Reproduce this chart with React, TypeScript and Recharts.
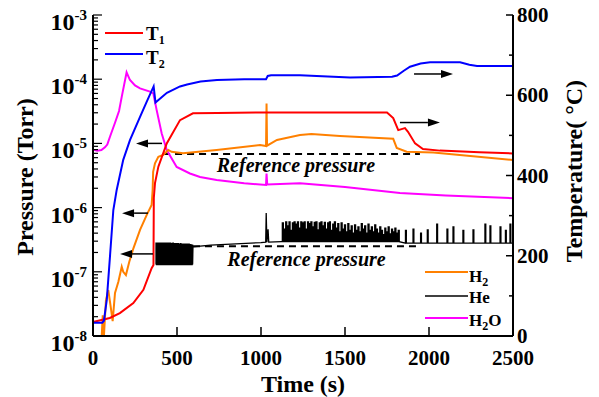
import React from 'react'
import { ComposedChart, Line, XAxis, YAxis, ReferenceLine, ReferenceDot, Customized } from 'recharts'

const FONT = '"Liberation Serif", "Times New Roman", serif'

// [time (s), temperature (°C)]
const t1Data = [
  [0, 35], [100, 45], [160, 57], [240, 82], [300, 115], [349, 169], [360, 177], [362, 344],
  [369, 381], [389, 422], [439, 480], [518, 538], [595, 555], [738, 556], [1030, 557],
  [1750, 557], [1787, 543], [1817, 513], [1857, 518], [1875, 509], [1917, 480], [1964, 466],
  [2065, 462], [2300, 458], [2500, 455],
]
const t2Data = [
  [0, 33], [55, 33], [65, 38], [82, 90], [101, 198], [121, 314], [141, 364], [180, 439],
  [220, 488], [280, 546], [320, 584], [361, 622], [372, 582], [400, 592], [440, 606],
  [518, 622], [560, 627], [640, 634], [738, 638], [900, 640], [1030, 640], [1040, 648],
  [1060, 650], [1232, 650], [1530, 644], [1780, 646], [1810, 649], [1850, 661], [1887, 671],
  [1950, 679], [2006, 682], [2185, 682], [2240, 676], [2286, 673], [2500, 673],
]

// [time (s), pressure (Torr)]
const h2Data = [
  [52, 1.0e-8], [58, 2.1e-8], [65, 1.0e-8], [77, 3.6e-8], [91, 5.2e-8], [105, 2.9e-8],
  [117, 1.7e-8], [131, 4.7e-8], [151, 7.0e-8], [171, 1.2e-7], [180, 1.0e-7], [196, 8.9e-8],
  [216, 1.43e-7], [240, 2.3e-7], [280, 4.5e-7], [320, 7.7e-7], [349, 1.1e-6], [355, 1.9e-6],
  [358, 3.6e-6], [369, 4.9e-6], [389, 6.2e-6], [418, 6.6e-6], [448, 7.9e-6], [468, 7.4e-6],
  [536, 7.0e-6], [736, 7.9e-6], [994, 9.4e-6], [1030, 9.1e-6], [1033, 4.2e-5], [1036, 9.2e-6],
  [1095, 1.13e-5], [1232, 1.35e-5], [1300, 1.4e-5], [1470, 1.3e-5], [1787, 1.18e-5],
  [1808, 8.5e-6], [1867, 7.4e-6], [2026, 7.2e-6], [2500, 5.5e-6],
]
const h2oData = [
  [0, 8.0e-6], [25, 7.7e-6], [50, 7.9e-6], [71, 8.7e-6], [85, 9.6e-6], [101, 1.27e-5],
  [131, 2.1e-5], [155, 3.2e-5], [171, 5.3e-5], [200, 1.28e-4], [220, 9.7e-5], [250, 8.0e-5],
  [280, 7.2e-5], [339, 6.4e-5], [359, 6.0e-5], [379, 3.3e-5], [409, 1.43e-5], [439, 7.9e-6],
  [498, 4.3e-6], [577, 3.4e-6], [637, 3.0e-6], [736, 2.7e-6], [900, 2.4e-6], [1030, 2.25e-6],
  [1033, 3.4e-6], [1037, 2.3e-6], [1232, 2.4e-6], [1500, 2.1e-6], [1827, 1.69e-6],
  [2100, 1.55e-6], [2500, 1.4e-6],
]

// He signal: bursts of pulses [time, top] over a base level, plus a smooth plateau
const heBurstBase = 1.3e-7
const heBurst = [
  [375, 2.8e-7], [380, 2.8e-7], [385, 2.75e-7], [390, 2.8e-7], [395, 2.8e-7], [400, 2.75e-7],
  [405, 2.8e-7], [410, 2.8e-7], [415, 2.8e-7], [420, 2.75e-7], [425, 2.8e-7], [430, 2.8e-7],
  [435, 2.75e-7], [440, 2.8e-7], [445, 2.8e-7], [450, 2.75e-7], [455, 2.8e-7], [460, 2.8e-7],
  [465, 2.75e-7], [470, 2.75e-7], [475, 2.8e-7], [480, 2.75e-7], [485, 2.75e-7], [490, 2.75e-7],
  [495, 2.7e-7], [500, 2.75e-7], [505, 2.75e-7], [510, 2.7e-7], [515, 2.7e-7], [520, 2.75e-7],
  [525, 2.7e-7], [535, 2.7e-7], [540, 2.7e-7], [545, 2.7e-7], [555, 2.7e-7], [565, 2.7e-7],
  [570, 2.7e-7], [580, 2.65e-7], [590, 2.6e-7],
]
const hePlateau = [
  [595, 2.45e-7], [700, 2.6e-7], [850, 2.72e-7], [1000, 2.85e-7], [1028, 2.9e-7],
  [1031, 8.2e-7], [1035, 2.9e-7], [1042, 4.6e-7], [1046, 2.9e-7], [1122, 2.95e-7],
]
const heDenseBase = 2.95e-7
const heDense = [
  [1127, 5.8e-7], [1137, 4.6e-7], [1147, 6.0e-7], [1157, 5.2e-7], [1167, 6.0e-7], [1177, 4.4e-7],
  [1187, 5.8e-7], [1197, 6.0e-7], [1207, 5.5e-7], [1217, 6.0e-7], [1227, 4.8e-7], [1237, 6.0e-7],
  [1247, 5.8e-7], [1257, 6.0e-7], [1267, 4.6e-7], [1277, 6.0e-7], [1287, 5.6e-7], [1297, 6.0e-7],
  [1307, 5.0e-7], [1317, 5.9e-7], [1327, 6.0e-7], [1337, 4.5e-7], [1347, 5.8e-7], [1357, 6.0e-7],
  [1367, 5.2e-7], [1377, 5.9e-7], [1387, 4.6e-7], [1397, 5.8e-7], [1407, 6.0e-7], [1417, 4.4e-7],
  [1427, 5.5e-7], [1437, 6.0e-7], [1447, 4.8e-7], [1457, 5.6e-7], [1467, 4.2e-7], [1477, 5.8e-7],
  [1487, 4.6e-7], [1497, 5.4e-7], [1507, 4.2e-7], [1517, 5.6e-7], [1527, 4.4e-7], [1537, 5.2e-7],
  [1547, 4.0e-7], [1557, 5.4e-7], [1567, 4.4e-7], [1577, 5.0e-7], [1587, 4.2e-7], [1597, 5.6e-7],
  [1607, 4.6e-7], [1617, 5.2e-7], [1627, 4.0e-7], [1637, 5.5e-7], [1647, 4.4e-7], [1657, 5.0e-7],
  [1667, 4.2e-7], [1677, 5.4e-7], [1687, 4.6e-7], [1697, 4.0e-7], [1707, 5.0e-7], [1717, 4.4e-7],
  [1727, 3.8e-7], [1737, 4.8e-7], [1747, 4.2e-7], [1757, 5.0e-7], [1767, 3.9e-7], [1777, 4.6e-7],
  [1787, 4.2e-7], [1797, 4.8e-7], [1807, 4.0e-7], [1817, 4.4e-7],
]
const heSparseBase = 2.8e-7
const heSparse = [
  [1860, 4.4e-7], [1905, 4.6e-7], [1950, 4.0e-7], [1990, 4.5e-7], [2046, 5.5e-7], [2107, 4.6e-7],
  [2143, 5.0e-7], [2202, 4.4e-7], [2262, 4.5e-7], [2333, 5.5e-7], [2363, 5.2e-7], [2423, 5.0e-7],
  [2455, 4.4e-7], [2482, 5.5e-7],
]
const heEnd = [[2500, 2.8e-7]]

// reference pressures: [start time, end time, pressure]
const refUpper = [417, 1946, 6.84e-6]
const refLower = [595, 1950, 2.5e-7]

// arrows: [from time, to time, value]
const pressureArrows = [[411, 256, 1.0e-5], [327, 173, 8.2e-7], [357, 161, 1.9e-7]]
const tempArrows = [[1911, 2143, 653], [1827, 2065, 532]]

const timeTicks = [0, 500, 1000, 1500, 2000, 2500]
const topTicks = [500, 1000, 1500, 2000]
const decades = [1e-8, 1e-7, 1e-6, 1e-5, 1e-4, 1e-3]
const pressureTicks = decades.flatMap((d, i) =>
  i === decades.length - 1 ? [d] : [1, 2, 3, 4, 5, 6, 7, 8, 9].map((m) => m * d)
)
const tempTicks = [0, 100, 200, 300, 400, 500, 600, 700, 800]

const rows = (arr: number[][]) => arr.map(([t, v]) => ({ t, v }))

// square pulses: up at t, down after w seconds
const pulses = (list: number[][], base: number, w: number) =>
  list.flatMap(([t, h]) => [[t, base], [t, h], [t + w, h], [t + w, base]])

const heData = [
  ...pulses(heBurst, heBurstBase, 3),
  ...hePlateau,
  ...pulses(heDense, heDenseBase, 6),
  ...pulses(heSparse, heSparseBase, 5),
  ...heEnd,
]

function BottomTick({ x, y, payload }: any) {
  return (
    <g>
      <line x1={x} y1={y} x2={x} y2={y - 9} stroke="#000" strokeWidth={1.5} />
      <text x={x} y={y + 29} textAnchor="middle" fontFamily={FONT} fontWeight="bold" fontSize={21} fill="#000">
        {payload.value}
      </text>
    </g>
  )
}

function TopTick({ x, y }: any) {
  return <line x1={x} y1={y} x2={x} y2={y + 9} stroke="#000" strokeWidth={1.5} />
}

function PressureTick({ x, y, payload }: any) {
  const e = Math.log10(payload.value)
  const major = Math.abs(e - Math.round(e)) < 1e-6
  return (
    <g>
      <line x1={x} y1={y} x2={x + (major ? 9 : 5)} y2={y} stroke="#000" strokeWidth={1.2} />
      {major && (
        <text x={x - 6} y={y + 15} textAnchor="end" fontFamily={FONT} fontWeight="bold" fill="#000">
          <tspan fontSize={24}>10</tspan>
          <tspan fontSize={15} dy={-10}>{Math.round(e)}</tspan>
        </text>
      )}
    </g>
  )
}

function TempTick({ x, y, payload }: any) {
  const major = payload.value % 200 === 0
  return (
    <g>
      <line x1={x} y1={y} x2={x - (major ? 7 : 4)} y2={y} stroke="#000" strokeWidth={1.5} />
      {major && (
        <text x={x + 4} y={y + 7} fontFamily={FONT} fontWeight="bold" fontSize={21} fill="#000">
          {payload.value}
        </text>
      )}
    </g>
  )
}

function Arrow({ x1, y1, x2, y2 }: any) {
  const a = Math.atan2(y2 - y1, x2 - x1)
  const bx = x2 - 12 * Math.cos(a)
  const by = y2 - 12 * Math.sin(a)
  const px = -Math.sin(a) * 4
  const py = Math.cos(a) * 4
  return (
    <g>
      <line x1={x1} y1={y1} x2={bx} y2={by} stroke="#000" strokeWidth={1.5} />
      <polygon points={`${x2},${y2} ${bx + px},${by + py} ${bx - px},${by - py}`} fill="#000" />
    </g>
  )
}

const refLabel = (dy: number) => ({ cx, cy }: any) => (
  <text x={cx} y={cy + dy} textAnchor="middle" fontFamily={FONT} fontWeight="bold" fontStyle="italic" fontSize={20} fill="#000">
    Reference pressure
  </text>
)

function Decorations() {
  const txt = { fontFamily: FONT, fontWeight: 'bold' as const, fill: '#000' }
  return (
    <g>
      <line x1={105} y1={33} x2={143} y2={33} stroke="#ff0000" strokeWidth={2} />
      <text x={146} y={40} {...txt} fontSize={19}>T<tspan fontSize={12} dy={4}>1</tspan></text>
      <line x1={105} y1={54} x2={143} y2={54} stroke="#0000ff" strokeWidth={2} />
      <text x={146} y={64} {...txt} fontSize={19}>T<tspan fontSize={12} dy={4}>2</tspan></text>

      <line x1={425} y1={272} x2={468} y2={272} stroke="#ff8000" strokeWidth={2} />
      <text x={469} y={282} {...txt} fontSize={17}>H<tspan fontSize={12} dy={4}>2</tspan></text>
      <line x1={425} y1={296} x2={468} y2={296} stroke="#000" strokeWidth={1.5} />
      <text x={469} y={303} {...txt} fontSize={17}>He</text>
      <line x1={425} y1={318} x2={468} y2={318} stroke="#ff00ff" strokeWidth={2} />
      <text x={469} y={326} {...txt} fontSize={17}>H<tspan fontSize={12} dy={4}>2</tspan><tspan dy={-4}>O</tspan></text>

      <text x={33} y={177} transform="rotate(-90 33 177)" textAnchor="middle" {...txt} fontSize={24}>Pressure (Torr)</text>
      <text x={582} y={171} transform="rotate(-90 582 171)" textAnchor="middle" {...txt} fontSize={24}>Temperature( °C)</text>
      <text x={303} y={392} textAnchor="middle" {...txt} fontSize={24}>Time (s)</text>
    </g>
  )
}

export default function App() {
  return (
    <div style={{ position: 'absolute', left: 0, top: 0, background: '#fff' }}>
      <ComposedChart width={599} height={397} margin={{ top: 15, right: 0, bottom: 0, left: 0 }}>
        <XAxis
          dataKey="t"
          type="number"
          domain={[0, 2500]}
          ticks={timeTicks}
          height={61}
          tickSize={0}
          tickMargin={0}
          tickLine={false}
          tick={<BottomTick />}
          axisLine={{ stroke: '#000', strokeWidth: 2 }}
          interval={0}
        />
        <XAxis
          xAxisId="top"
          orientation="top"
          type="number"
          domain={[0, 2500]}
          ticks={topTicks}
          height={0}
          tickSize={0}
          tickMargin={0}
          tickLine={false}
          tick={<TopTick />}
          axisLine={{ stroke: '#000', strokeWidth: 2 }}
          interval={0}
        />
        <YAxis
          yAxisId="P"
          scale="log"
          type="number"
          domain={[1e-8, 1e-3]}
          allowDataOverflow
          ticks={pressureTicks}
          width={93}
          tickSize={0}
          tickMargin={0}
          tickLine={false}
          tick={<PressureTick />}
          axisLine={{ stroke: '#000', strokeWidth: 2 }}
          interval={0}
        />
        <YAxis
          yAxisId="T"
          orientation="right"
          type="number"
          domain={[0, 800]}
          ticks={tempTicks}
          width={86}
          tickSize={0}
          tickMargin={0}
          tickLine={false}
          tick={<TempTick />}
          axisLine={{ stroke: '#000', strokeWidth: 2 }}
          interval={0}
        />

        <ReferenceLine
          yAxisId="P"
          segment={[{ x: refUpper[0], y: refUpper[2] }, { x: refUpper[1], y: refUpper[2] }]}
          stroke="#000"
          strokeWidth={2}
          strokeDasharray="7 5"
        />
        <ReferenceLine
          yAxisId="P"
          segment={[{ x: refLower[0], y: refLower[2] }, { x: refLower[1], y: refLower[2] }]}
          stroke="#000"
          strokeWidth={2}
          strokeDasharray="7 5"
        />

        <Line data={rows(heData)} dataKey="v" yAxisId="P" stroke="#000" strokeWidth={1.3} dot={false} isAnimationActive={false} />
        <Line data={rows(h2oData)} dataKey="v" yAxisId="P" stroke="#ff00ff" strokeWidth={2} dot={false} isAnimationActive={false} />
        <Line data={rows(h2Data)} dataKey="v" yAxisId="P" stroke="#ff8000" strokeWidth={2} dot={false} isAnimationActive={false} />
        <Line data={rows(t1Data)} dataKey="v" yAxisId="T" stroke="#ff0000" strokeWidth={2} dot={false} isAnimationActive={false} />
        <Line data={rows(t2Data)} dataKey="v" yAxisId="T" stroke="#0000ff" strokeWidth={2} dot={false} isAnimationActive={false} />

        {pressureArrows.map(([a, b, v], i) => (
          <ReferenceLine key={`pa${i}`} yAxisId="P" segment={[{ x: a, y: v }, { x: b, y: v }]} shape={Arrow} />
        ))}
        {tempArrows.map(([a, b, v], i) => (
          <ReferenceLine key={`ta${i}`} yAxisId="T" segment={[{ x: a, y: v }, { x: b, y: v }]} shape={Arrow} />
        ))}

        <ReferenceDot yAxisId="P" x={1208} y={refUpper[2]} r={0} shape={refLabel(18)} />
        <ReferenceDot yAxisId="P" x={1271} y={refLower[2]} r={0} shape={refLabel(20)} />

        <Customized component={<Decorations />} />
      </ComposedChart>
    </div>
  )
}
